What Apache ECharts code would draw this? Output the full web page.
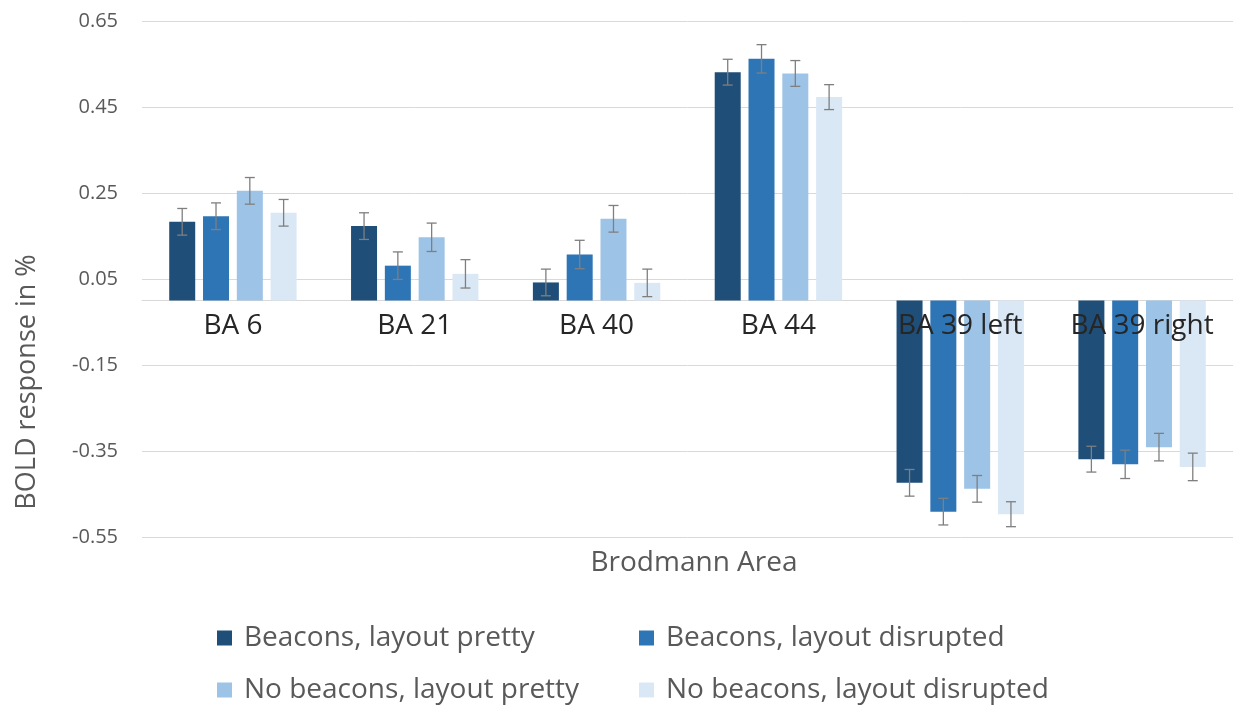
<!DOCTYPE html>
<html>
<head>
<meta charset="utf-8">
<title>BOLD response by Brodmann Area</title>
<script src="https://cdn.jsdelivr.net/npm/echarts@6/dist/echarts.min.js"></script>
<style>
  html, body { margin: 0; padding: 0; background: #fff; }
  #chart { width: 1233px; height: 705px; }
</style>
</head>
<body>
<div id="chart"></div>
<script>
// categories on the x axis
var areas = ['BA 6', 'BA 21', 'BA 40', 'BA 44', 'BA 39 left', 'BA 39 right']
// the four conditions
var seriesNames = [
  'Beacons, layout pretty',
  'Beacons, layout disrupted',
  'No beacons, layout pretty',
  'No beacons, layout disrupted'
]
// mean BOLD response (%)
var beaconsPretty = [0.183, 0.173, 0.042, 0.531, -0.424, -0.369]
var beaconsDisrupted = [0.196, 0.081, 0.107, 0.562, -0.491, -0.381]
var noBeaconsPretty = [0.255, 0.147, 0.190, 0.528, -0.438, -0.341]
var noBeaconsDisrupted = [0.204, 0.062, 0.041, 0.473, -0.497, -0.387]
// error bar half-lengths
var errBeaconsPretty = [0.031, 0.031, 0.031, 0.030, 0.031, 0.030]
var errBeaconsDisrupted = [0.031, 0.032, 0.033, 0.033, 0.031, 0.033]
var errNoBeaconsPretty = [0.031, 0.033, 0.031, 0.030, 0.031, 0.032]
var errNoBeaconsDisrupted = [0.031, 0.033, 0.032, 0.029, 0.029, 0.032]

var values = [beaconsPretty, beaconsDisrupted, noBeaconsPretty, noBeaconsDisrupted]
var errors = [errBeaconsPretty, errBeaconsDisrupted, errNoBeaconsPretty, errNoBeaconsDisrupted]
var colors = ['#1f4e79', '#2e75b6', '#9dc3e6', '#dae8f6']

var Y_MIN = -0.55
var Y_MAX = 0.65
var BAR_W = 26
var BAR_GAP = 0.3 // fraction of bar width
var FONT = '"Open Sans", "Noto Sans", sans-serif'

// plot area
var GRID_LEFT = 142
var GRID_TOP = 21
var GRID_W = 1110
var GRID_H = 516
// pixel height from the top down to value 0 (labels hang from there)
var ZERO_H = GRID_H * Y_MAX / (Y_MAX - Y_MIN)

var myChart = echarts.init(document.getElementById('chart'))

// draws one error bar with caps, shifted to its bar in the group
function errRender(k) {
  return function(params, api) {
    var ci = api.value(0)
    var v = api.value(1)
    var e = api.value(2)
    var hi = api.coord([ci, v + e])
    var lo = api.coord([ci, v - e])
    var x = hi[0] + (k - 1.5) * (BAR_W * (1 + BAR_GAP))
    var cap = 5
    var st = { stroke: '#7f7f7f', lineWidth: 1.3 }
    return {
      type: 'group',
      children: [
        { type: 'line', shape: { x1: x, y1: hi[1], x2: x, y2: lo[1] }, style: st },
        { type: 'line', shape: { x1: x - cap, y1: hi[1], x2: x + cap, y2: hi[1] }, style: st },
        { type: 'line', shape: { x1: x - cap, y1: lo[1], x2: x + cap, y2: lo[1] }, style: st }
      ]
    }
  }
}

var series = []
for (var k = 0; k < 4; k++) {
  series.push({
    name: seriesNames[k],
    type: 'bar',
    barWidth: BAR_W,
    barGap: (BAR_GAP * 100) + '%',
    itemStyle: { color: colors[k] },
    data: values[k]
  })
}
for (var k2 = 0; k2 < 4; k2++) {
  var errData = []
  for (var i = 0; i < areas.length; i++) {
    errData.push([i, values[k2][i], errors[k2][i]])
  }
  series.push({
    name: 'err' + k2,
    type: 'custom',
    renderItem: errRender(k2),
    encode: { x: 0, y: 1 },
    z: 5,
    silent: true,
    data: errData
  })
}

// one legend per item so the two columns line up like the original
var legendPos = [[217, 623], [639, 623], [217, 675], [639, 675]]
var legends = seriesNames.map(function(name, j) {
  return {
    data: [name],
    left: legendPos[j][0],
    top: legendPos[j][1],
    padding: 0,
    icon: 'rect',
    itemWidth: 15,
    itemHeight: 15,
    textStyle: { fontFamily: FONT, fontSize: 28, color: '#595959', lineHeight: 30, padding: [0, 0, 0, 7] }
  }
})

var option = {
  animation: false,
  color: colors,
  textStyle: { fontFamily: FONT },
  grid: [
    { left: GRID_LEFT, top: GRID_TOP, width: GRID_W, height: GRID_H },
    // invisible twin of the plot, ending at value 0, carries the category labels
    { left: GRID_LEFT, top: GRID_TOP, width: GRID_W, height: ZERO_H }
  ],
  legend: legends,
  xAxis: [
    {
      type: 'category',
      data: areas,
      axisLine: { onZero: true, lineStyle: { color: '#d9d9d9', width: 1 } },
      axisTick: { show: false },
      axisLabel: { show: false }
    },
    {
      type: 'category',
      gridIndex: 1,
      data: areas,
      z: 10,
      axisLine: { show: false, onZero: false },
      axisTick: { show: false },
      splitLine: { show: false },
      axisLabel: { fontSize: 28, color: '#262626', margin: 12, interval: 0 }
    }
  ],
  yAxis: [
    {
      type: 'value',
      min: Y_MIN,
      max: Y_MAX,
      interval: 0.2,
      axisLine: { show: false },
      axisTick: { show: false },
      splitLine: { lineStyle: { color: '#d9d9d9', width: 1 } },
      axisLabel: {
        fontSize: 20,
        color: '#595959',
        margin: 24,
        formatter: function(v) { return v.toFixed(2) }
      }
    },
    {
      type: 'value',
      gridIndex: 1,
      show: false
    }
  ],
  graphic: [
    {
      type: 'text',
      x: 27,
      y: 382,
      rotation: Math.PI / 2,
      style: { text: 'BOLD response in %', fontFamily: FONT, fontSize: 27, fill: '#595959', textAlign: 'center', textVerticalAlign: 'middle' }
    },
    {
      type: 'text',
      x: 694,
      y: 563,
      style: { text: 'Brodmann Area', fontFamily: FONT, fontSize: 28, fill: '#595959', textAlign: 'center', textVerticalAlign: 'middle' }
    }
  ],
  series: series
}

myChart.setOption(option)
window.addEventListener('resize', function() {
  myChart.resize()
})
</script>
</body>
</html>
